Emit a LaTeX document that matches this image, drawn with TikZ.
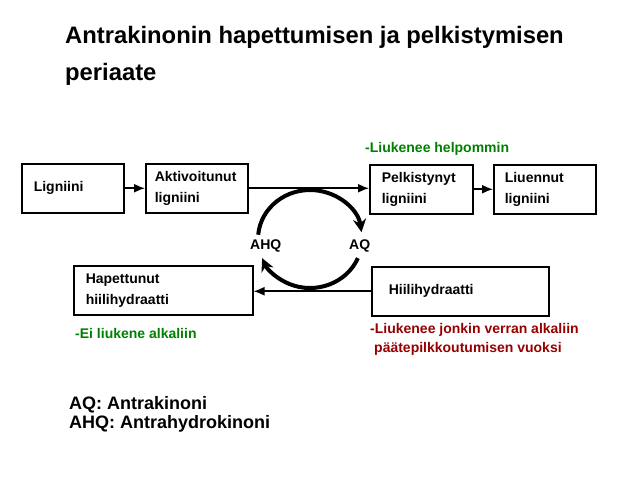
\documentclass[tikz,border=0pt]{standalone}
\usepackage{fontspec}
\setmainfont{Liberation Sans}
\usetikzlibrary{arrows.meta}
\definecolor{vihrea}{RGB}{0,128,0}
\definecolor{punainen}{RGB}{150,0,0}

\begin{document}
\begin{tikzpicture}[x=1pt,y=1pt,
		box/.style={draw,line width=1.5pt,anchor=north west,minimum height=49pt,align=left,inner ysep=0pt,font=\bfseries\fontsize{14}{21}\selectfont},
		arr/.style={line width=1.6pt,-{Latex[length=11pt,width=9pt]}},
		cyc/.style={line width=4pt,-{Stealth[length=13pt,width=13pt]}},
		lbl/.style={anchor=base west,inner sep=0pt,font=\bfseries\fontsize{14}{20}\selectfont},
		otsikko/.style={anchor=base west,inner sep=0pt,font=\bfseries\fontsize{23.8}{37}\selectfont},
		selite/.style={anchor=base west,inner sep=0pt,font=\bfseries\fontsize{18}{19}\selectfont}]
	\useasboundingbox (0,0) rectangle (623,-480);
	\node[otsikko] (t1) at (65,-43) {Antrakinonin hapettumisen ja pelkistymisen};
	\node[otsikko] (t2) at (65,-80) {periaate};
	\node[box,inner xsep=12pt,text width=78pt] (lig) at (21,-163) {Ligniini};
	\node[box,inner xsep=9pt,text width=84pt] (akt) at (145,-163) {Aktivoitunut\\ligniini};
	\node[box,inner xsep=12pt,text width=79pt] (pel) at (369,-164) {Pelkistynyt\\ligniini};
	\node[box,inner xsep=11pt,text width=80pt] (liu) at (493,-164) {Liuennut\\ligniini};
	\node[box,inner xsep=12pt,text width=155pt] (hap) at (73,-265) {Hapettunut\\hiilihydraatti};
	\node[box,inner xsep=17pt,text width=143pt] (hii) at (371,-266) {Hiilihydraatti};
	\draw[arr] (lig) -- (akt);
	\draw[arr] (akt.east) -- (akt.east -| pel.west);
	\draw[arr] (pel) -- (liu);
	\draw[arr] (hii.west) -- (hii.west -| hap.east);
	\coordinate (kierto) at (310,-239);
	\draw[cyc] ([shift={(175:52 and 49)}]kierto) arc[start angle=175,end angle=8,x radius=52,y radius=49];
	\draw[cyc] ([shift={(-23:52 and 49)}]kierto) arc[start angle=-23,end angle=-157,x radius=52,y radius=49];
	\node[lbl] (ahq) at (250,-249) {AHQ};
	\node[lbl] (aq) at (349,-249) {AQ};
	\node[lbl,text=vihrea] (helpo) at (365,-152) {-Liukenee helpommin};
	\node[lbl,text=vihrea] (ei) at (75,-338) {-Ei liukene alkaliin};
	\node[lbl,text=punainen] (jonkin) at (370,-333) {-Liukenee jonkin verran alkaliin};
	\node[lbl,text=punainen] (vuoksi) at (374,-352) {päätepilkkoutumisen vuoksi};
	\node[selite] (s1) at (69,-409) {AQ: Antrakinoni};
	\node[selite] (s2) at (69,-428) {AHQ: Antrahydrokinoni};
\end{tikzpicture}
\end{document}
